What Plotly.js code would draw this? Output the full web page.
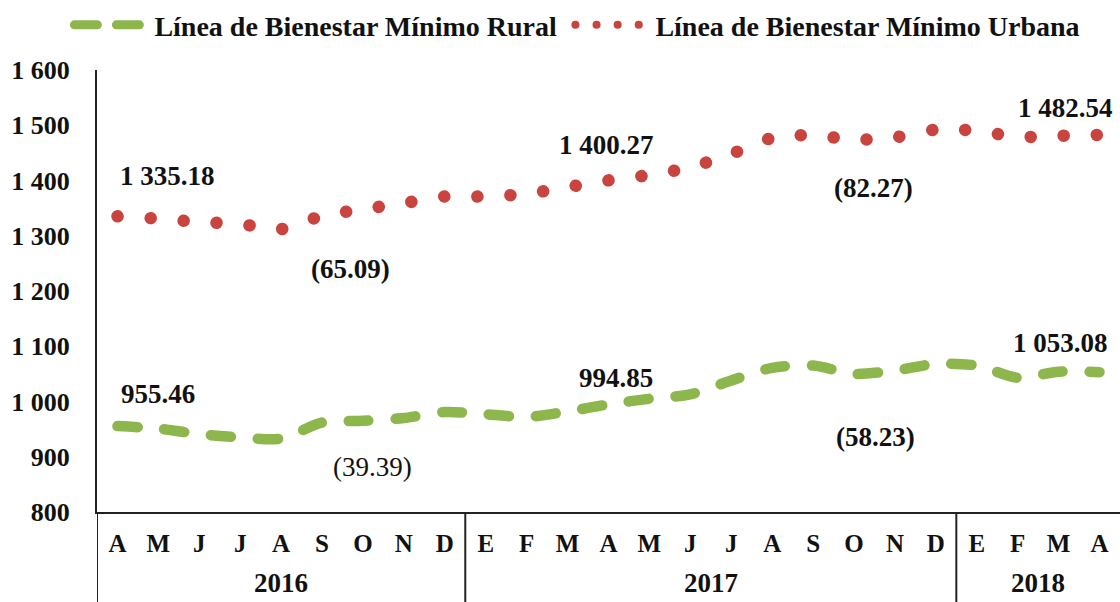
<!DOCTYPE html>
<html><head><meta charset="utf-8">
<script src="https://cdn.plot.ly/plotly-3.0.1.min.js"></script>
<style>
html,body{margin:0;padding:0;background:#fff;}
#chart{width:1120px;height:602px;}
path.js-line{stroke-linecap:round;}
</style></head><body><div id="chart"></div>
<script>
const months = ['A','M','J','J','A','S','O','N','D','E','F','M','A','M','J','J','A','S','O','N','D','E','F','M','A'];
const years = ['2016','2017','2018'];
const yearCounts = [9, 12, 4];
const rural = [955.46, 951, 941, 935, 933, 962, 965, 970, 981, 977, 972, 982, 994.85, 1005, 1013, 1038, 1061, 1065, 1050, 1056, 1068, 1065, 1043, 1054, 1053.08];
const urbana = [1335.18, 1331, 1325, 1321, 1312, 1336, 1348, 1359, 1371, 1371, 1376, 1388, 1400.27, 1410, 1424, 1448, 1477, 1482, 1474, 1478, 1492, 1490, 1479, 1481, 1482.54];
const yTickVals = [800, 900, 1000, 1100, 1200, 1300, 1400, 1500, 1600];
const yTickText = ['800', '900', '1 000', '1 100', '1 200', '1 300', '1 400', '1 500', '1 600'];
const seriesNames = ['Línea de Bienestar Mínimo Rural', 'Línea de Bienestar Mínimo Urbana'];
const labelIdx = [0, 12, 24];

const idx = months.map((m, i) => i);
const FONT = 'Liberation Serif, Times New Roman, serif';
const GREEN = '#8db64c';
const RED = '#c9443f';

function fmt(v) {
  const s = v.toFixed(2);
  const [a, b] = s.split('.');
  return a.replace(/\B(?=(\d{3})+(?!\d))/g, ' ') + '.' + b;
}

const traces = [
  {x: idx, y: rural, mode: 'lines', type: 'scatter', showlegend: false,
   line: {color: GREEN, width: 10.5, dash: '20px,27px', shape: 'spline', smoothing: 0.8}, hoverinfo: 'skip'},
  {x: idx, y: urbana, mode: 'lines', type: 'scatter', showlegend: false,
   line: {color: RED, width: 12.5, dash: '0.1px,33px', shape: 'spline', smoothing: 0.8}, hoverinfo: 'skip'},
  {x: [null], y: [null], mode: 'lines', type: 'scatter', name: seriesNames[0], legend: 'legend',
   line: {color: GREEN, width: 9, dash: '23px,19px'}},
  {x: [null], y: [null], mode: 'lines', type: 'scatter', name: seriesNames[1], legend: 'legend2',
   line: {color: RED, width: 8, dash: '0.1px,21px'}}
];

const annFont = {family: FONT, size: 27, color: '#111', weight: 'bold'};
function px2paper(px, py) { return {x: (px - 97) / 1023, y: (512 - py) / 444}; }
const annotations = [];
function addAnn(px, py, text, font) {
  const p = px2paper(px, py);
  annotations.push({xref: 'paper', yref: 'paper', x: p.x, y: p.y, xanchor: 'center', yanchor: 'middle',
    text: text, showarrow: false, font: font || annFont});
}
// value labels
const valPos = {
  rural: [[158, 393], [616, 377], [1060, 342]],
  urbana: [[167, 174], [606, 143], [1065, 106]]
};
labelIdx.forEach((k, j) => {
  addAnn(valPos.urbana[j][0], valPos.urbana[j][1], fmt(urbana[k]));
  addAnn(valPos.rural[j][0], valPos.rural[j][1], fmt(rural[k]));
});
// difference labels
const diffPos = {urbana: [[350, 268], [873, 187]], rural: [[372, 467], [875, 437]]};
for (let j = 0; j < 2; j++) {
  const du = urbana[labelIdx[j + 1]] - urbana[labelIdx[j]];
  const dr = rural[labelIdx[j + 1]] - rural[labelIdx[j]];
  addAnn(diffPos.urbana[j][0], diffPos.urbana[j][1], '(' + du.toFixed(2) + ')');
  addAnn(diffPos.rural[j][0], diffPos.rural[j][1], '(' + dr.toFixed(2) + ')',
    Object.assign({}, annFont, {weight: j === 0 ? 'normal' : 'bold'}));
}
// year labels and separators
const shapes = [];
let start = 0;
years.forEach((yr, i) => {
  const c = yearCounts[i];
  annotations.push({xref: 'x', yref: 'paper', x: start + (c - 1) / 2, y: (512 - 583) / 444,
    xanchor: 'center', yanchor: 'middle', text: yr, showarrow: false,
    font: {family: FONT, size: 27, color: '#111', weight: 'bold'}});
  shapes.push({type: 'line', xref: 'x', yref: 'paper', x0: start - 0.5, x1: start - 0.5, y0: 0, y1: -0.21,
    line: {color: '#222', width: 2}});
  start += c;
});

const legendFont = {family: FONT, size: 28, color: '#111', weight: 'bold'};
const layout = {
  width: 1120, height: 602,
  margin: {l: 97, r: 0, t: 68, b: 90},
  paper_bgcolor: '#fff', plot_bgcolor: '#fff',
  font: {family: FONT, color: '#111'},
  xaxis: {range: [-0.5, 24.5], tickvals: idx, ticktext: months, showgrid: false, zeroline: false,
    showline: true, linecolor: '#222', linewidth: 2, ticks: '', ticklabelstandoff: 8,
    tickfont: {family: FONT, size: 25, color: '#111', weight: 'bold'}, fixedrange: true},
  yaxis: {range: [800, 1600], tickvals: yTickVals, ticktext: yTickText, showgrid: false, zeroline: false,
    showline: true, linecolor: '#222', linewidth: 2, ticks: '', ticklabelstandoff: 20,
    tickfont: {family: FONT, size: 26, color: '#111', weight: 'bold'}, fixedrange: true},
  legend: {orientation: 'h', x: -0.027, xanchor: 'left', y: 1.158, yanchor: 'top',
    font: legendFont, itemwidth: 75, bgcolor: 'rgba(0,0,0,0)'},
  legend2: {orientation: 'h', x: (570.4 - 97) / 1023, xanchor: 'left', y: 1.158, yanchor: 'top',
    font: legendFont, itemwidth: 75, bgcolor: 'rgba(0,0,0,0)'},
  annotations: annotations,
  shapes: shapes,
  showlegend: true
};

Plotly.newPlot('chart', traces, layout, {displayModeBar: false, staticPlot: true});
</script></body></html>
